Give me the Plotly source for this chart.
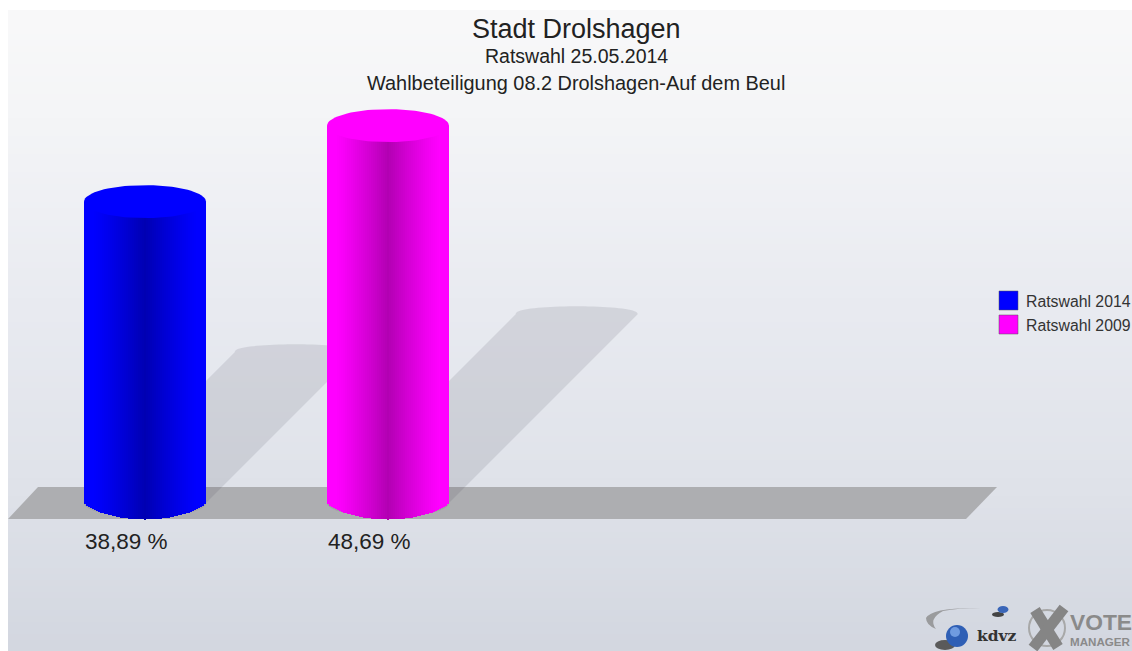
import numpy as np
import plotly.graph_objects as go

# ---- data ----
series_names = ["Ratswahl 2014", "Ratswahl 2009"]
series_values = [38.89, 48.69]
value_labels = ["38,89 %", "48,69 %"]
side_colors = [(0, 0, 255), (255, 0, 255)]
title_lines = ["Stadt Drolshagen", "Ratswahl 25.05.2014", "Wahlbeteiligung 08.2 Drolshagen-Auf dem Beul"]

W, H = 1132, 651
FW, FH = W, H
PX_PER_UNIT_X = 243.0
PX_PER_PCT = 7.75
X0_PX, Y0_PX = 145.0, 503.0
xrange_ = [(0 - X0_PX) / PX_PER_UNIT_X, (W - X0_PX) / PX_PER_UNIT_X]
yrange_ = [(Y0_PX - H) / PX_PER_PCT, Y0_PX / PX_PER_PCT]


def dx(px):
    return (px - X0_PX) / PX_PER_UNIT_X


def dy(py):
    return (Y0_PX - py) / PX_PER_PCT


def fx(px):
    return px / FW


def fy(py):
    return 1 - py / FH


BAR_W = 122 / PX_PER_UNIT_X
CAP_H = 16.5 / PX_PER_PCT
N = 61
fig = go.Figure()
shapes = []

# background bands (paper space), white strip kept at left and top
stops_y = [10, 120, 300, 480, 651]
stops_c = [(249, 249, 250), (244, 245, 247), (233, 235, 241), (224, 227, 234), (211, 215, 224)]
bands = np.arange(10, 651, 6)
for b in bands:
    c = [int(np.interp(b + 3, stops_y, [s[i] for s in stops_c])) for i in range(3)]
    shapes.append(dict(type="rect", xref="paper", yref="paper", x0=fx(8), x1=1, y0=fy(b), y1=fy(min(b + 6.5, 651)),
                       fillcolor=f"rgb({c[0]},{c[1]},{c[2]})", line_width=0, layer="below"))

# floor
shapes.append(dict(type="path", xref="paper", yref="paper",
                   path=f"M{fx(8)},{fy(519)} L{fx(38)},{fy(487)} L{fx(997)},{fy(487)} L{fx(966)},{fy(519)} Z",
                   fillcolor="#adaeb1", line_width=0, layer="below"))

# shadows follow each value: sheared copies at half height
for i, v in enumerate(series_values):
    shift = v * PX_PER_PCT * 0.5
    t = np.linspace(np.pi, 0, 40)
    cx = X0_PX + i * PX_PER_UNIT_X + shift
    cy = Y0_PX - shift
    xs_top = cx + 61 * np.cos(t)
    ys_top = cy - 8 * np.sin(t) ** 0.8
    bx = X0_PX + i * PX_PER_UNIT_X
    xs_bot = bx + 61 * np.cos(t[::-1])
    ys_bot = Y0_PX + 14 * np.sin(t[::-1])
    px = np.r_[xs_top, xs_bot]
    py = np.r_[ys_top, ys_bot]
    path = "M" + " L".join(f"{dx(a):.4f},{dy(b):.4f}" for a, b in zip(px, py)) + " Z"
    shapes.append(dict(type="path", xref="x", yref="y", path=path,
                       fillcolor="rgba(60,60,70,0.12)", line_width=0, layer="below"))

# cylinders: slices with shaded side, rounded bottom, elliptical cap
for i, (name, v, col) in enumerate(zip(series_names, series_values, side_colors)):
    u = (np.arange(N) + 0.5) / N * 2 - 1
    xs = i + u * BAR_W / 2
    sag = CAP_H * (1 - u ** 2) ** 0.75
    shade = 1 - 0.30 * np.clip(1 - np.abs(u) / 0.85, 0, 1) ** 1.2
    cols = [f"rgb({int(col[0]*s)},{int(col[1]*s)},{int(col[2]*s)})" for s in shade]
    fig.add_trace(go.Bar(x=xs, y=v + sag, base=-sag, width=BAR_W / N * 1.35, name=name,
                         marker=dict(color=cols, line_width=0), showlegend=False, hoverinfo="skip"))
    t = np.linspace(0, 2 * np.pi, 80)
    fig.add_trace(go.Scatter(x=i + BAR_W / 2 * np.cos(t), y=v + CAP_H * np.sin(t), mode="lines",
                             fill="toself", fillcolor=f"rgb{col}", line=dict(width=0, color=f"rgb{col}"),
                             showlegend=False, hoverinfo="skip"))

annotations = []


def label(x, y, text, size, color="#222222", family="Liberation Sans", xanchor="center"):
    annotations.append(dict(x=fx(x), y=fy(y), xref="paper", yref="paper", text=text, showarrow=False,
                            xanchor=xanchor, yanchor="middle", borderpad=0, borderwidth=0,
                            font=dict(family=family, size=size, color=color)))


# value labels
for i, lab in enumerate(value_labels):
    annotations.append(dict(x=i - 19 / PX_PER_UNIT_X, y=dy(541), xref="x", yref="y", text=lab, showarrow=False,
                            xanchor="center", yanchor="middle",
                            font=dict(family="Liberation Sans", size=22.5, color="#222222")))

# titles
for txt, y, size in zip(title_lines, [29, 56, 83], [27, 19.5, 19.9]):
    label(576, y, txt, size)

# legend
for name, col, y in zip(series_names, side_colors, [301, 325]):
    shapes.append(dict(type="rect", xref="paper", yref="paper", x0=fx(999), x1=fx(1018), y0=fy(y - 10), y1=fy(y + 9),
                       fillcolor=f"rgb{col}", line=dict(color="#555555", width=0.5)))
    label(1026, y, name, 15.8, color="#333333", xanchor="left")

# logo
shapes.append(dict(type="path", xref="paper", yref="paper",
                   path=f"M{fx(981)},{fy(608)} Q{fx(932)},{fy(607)} {fx(926)},{fy(618)} Q{fx(926)},{fy(625)} {fx(936)},{fy(629)} "
                        f"Q{fx(928)},{fy(619)} {fx(943)},{fy(611)} Q{fx(958)},{fy(608)} {fx(981)},{fy(608)} Z",
                   fillcolor="#9a9b9d", line_width=0))
for (cx, cy, rx, ry, c) in [(998, 614.5, 6, 2.5, "#444444"), (1003, 609.5, 5.5, 3.5, "#3a66b8"),
                            (945, 645, 10, 5, "#5a5a5a"), (957, 636, 11, 11, "#2f5fb5"), (955, 632, 5, 5, "#6f9be0")]:
    shapes.append(dict(type="circle", xref="paper", yref="paper", x0=fx(cx - rx), x1=fx(cx + rx), y0=fy(cy - ry), y1=fy(cy + ry),
                       fillcolor=c, line_width=0))
shapes.append(dict(type="circle", xref="paper", yref="paper", x0=fx(1029), x1=fx(1065), y0=fy(610), y1=fy(646),
                   line=dict(color="#a8a8a8", width=2)))
for x0, y0, x1, y1 in [(1035, 610, 1058, 647), (1064, 608, 1033, 648)]:
    shapes.append(dict(type="line", xref="paper", yref="paper", x0=fx(x0), x1=fx(x1), y0=fy(y0), y1=fy(y1),
                       line=dict(color="#858585", width=11)))
label(977, 635, "<b>kdvz</b>", 15.5, color="#333333", family="DejaVu Serif", xanchor="left")
label(1070, 622, "<b>VOTE</b>", 22.8, color="#8a8a8a", xanchor="left")
label(1070, 641, "<b>MANAGER</b>", 11.6, color="#8a8a8a", xanchor="left")

fig.update_layout(width=FW, height=FH, margin=dict(l=0, r=0, t=0, b=0, autoexpand=False),
                  paper_bgcolor="white", plot_bgcolor="rgba(0,0,0,0)", showlegend=False,
                  barmode="overlay", bargap=0, shapes=shapes, annotations=annotations,
                  xaxis=dict(range=xrange_, visible=False, fixedrange=True),
                  yaxis=dict(range=yrange_, visible=False, fixedrange=True))
fig.write_html("out.html", config={"displayModeBar": False},
               post_script="document.documentElement.style.margin='0';document.body.style.margin='0';")
